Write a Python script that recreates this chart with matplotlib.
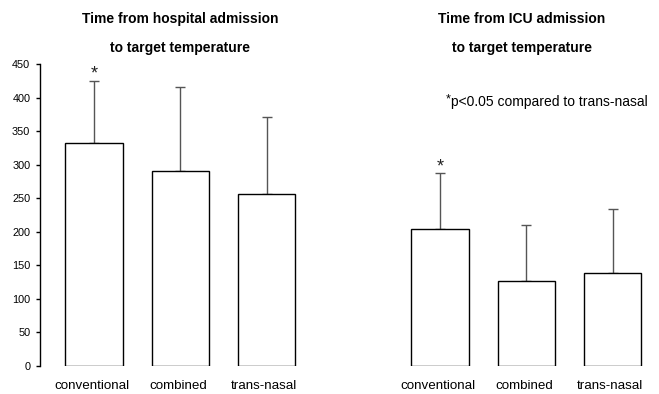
import numpy as np
import matplotlib
matplotlib.use("Agg")
import matplotlib.pyplot as plt

plt.rcParams['font.family'] = ['Liberation Sans', 'DejaVu Sans']

# %% Data
groups = ['conventional', 'combined', 'trans-nasal']
hosp_mean = [332, 290, 257]
hosp_sd = [93, 126, 114]
icu_mean = [204, 126, 138]
icu_sd = [83, 84, 96]
hosp_sig = [True, False, False]
icu_sig = [True, False, False]
title_l = ['Time from hospital admission', 'to target temperature']
title_r = ['Time from ICU admission', 'to target temperature']
yticks = np.arange(0, 451, 50)

W, H = 659, 394
fig = plt.figure(figsize=(6.59, 3.94), dpi=100)
ax1 = fig.add_axes([40/W, 28/H, 261/W, 302/H])
ax2 = fig.add_axes([386/W, 28/H, 261/W, 302/H])

x = np.arange(len(groups))
for ax, m, s, sig in [(ax1, hosp_mean, hosp_sd, hosp_sig),
                      (ax2, icu_mean, icu_sd, icu_sig)]:
    ax.bar(x, m, width=0.67, color='white', edgecolor='black', linewidth=1.0, zorder=3)
    ax.errorbar(x, m, yerr=[np.zeros(len(m)), s], fmt='none', ecolor='#555555',
                elinewidth=1.0, capsize=3.6, capthick=1.0, zorder=2)
    for xi, mi, si, st in zip(x, m, s, sig):
        if st:
            ax.text(xi, mi + si - 3, '*', ha='center', va='bottom', fontsize=13, color='#222222')
    ax.set_xlim(-0.63, 2.4)
    ax.set_ylim(0, 450)
    ax.set_xticks(x - 0.03)
    ax.set_xticklabels(groups, fontsize=9.6)
    ax.tick_params(axis='x', length=0, pad=10)
    for sp in ['top', 'right', 'bottom']:
        ax.spines[sp].set_visible(False)

ax1.set_yticks(yticks)
ax1.set_yticklabels([str(v) for v in yticks], fontsize=7.8)
ax1.tick_params(axis='y', length=3, width=1, direction='out', pad=4)
ax1.spines['left'].set_linewidth(1.0)
ax2.spines['left'].set_visible(False)
ax2.set_yticks([])

# titles
for xc, lines in [(180, title_l), (522, title_r)]:
    fig.text(xc/W, 1 - 19/H, lines[0], fontsize=10, fontweight='bold', ha='center', va='center')
    fig.text(xc/W, 1 - 48/H, lines[1], fontsize=10, fontweight='bold', ha='center', va='center')

# significance note
fig.text(446/W, 1 - 99/H, '*', fontsize=9, ha='left', va='center')
fig.text(451/W, 1 - 102/H, 'p<0.05 compared to trans-nasal', fontsize=10,
         ha='left', va='center')

fig.savefig('out.png', dpi=100)
